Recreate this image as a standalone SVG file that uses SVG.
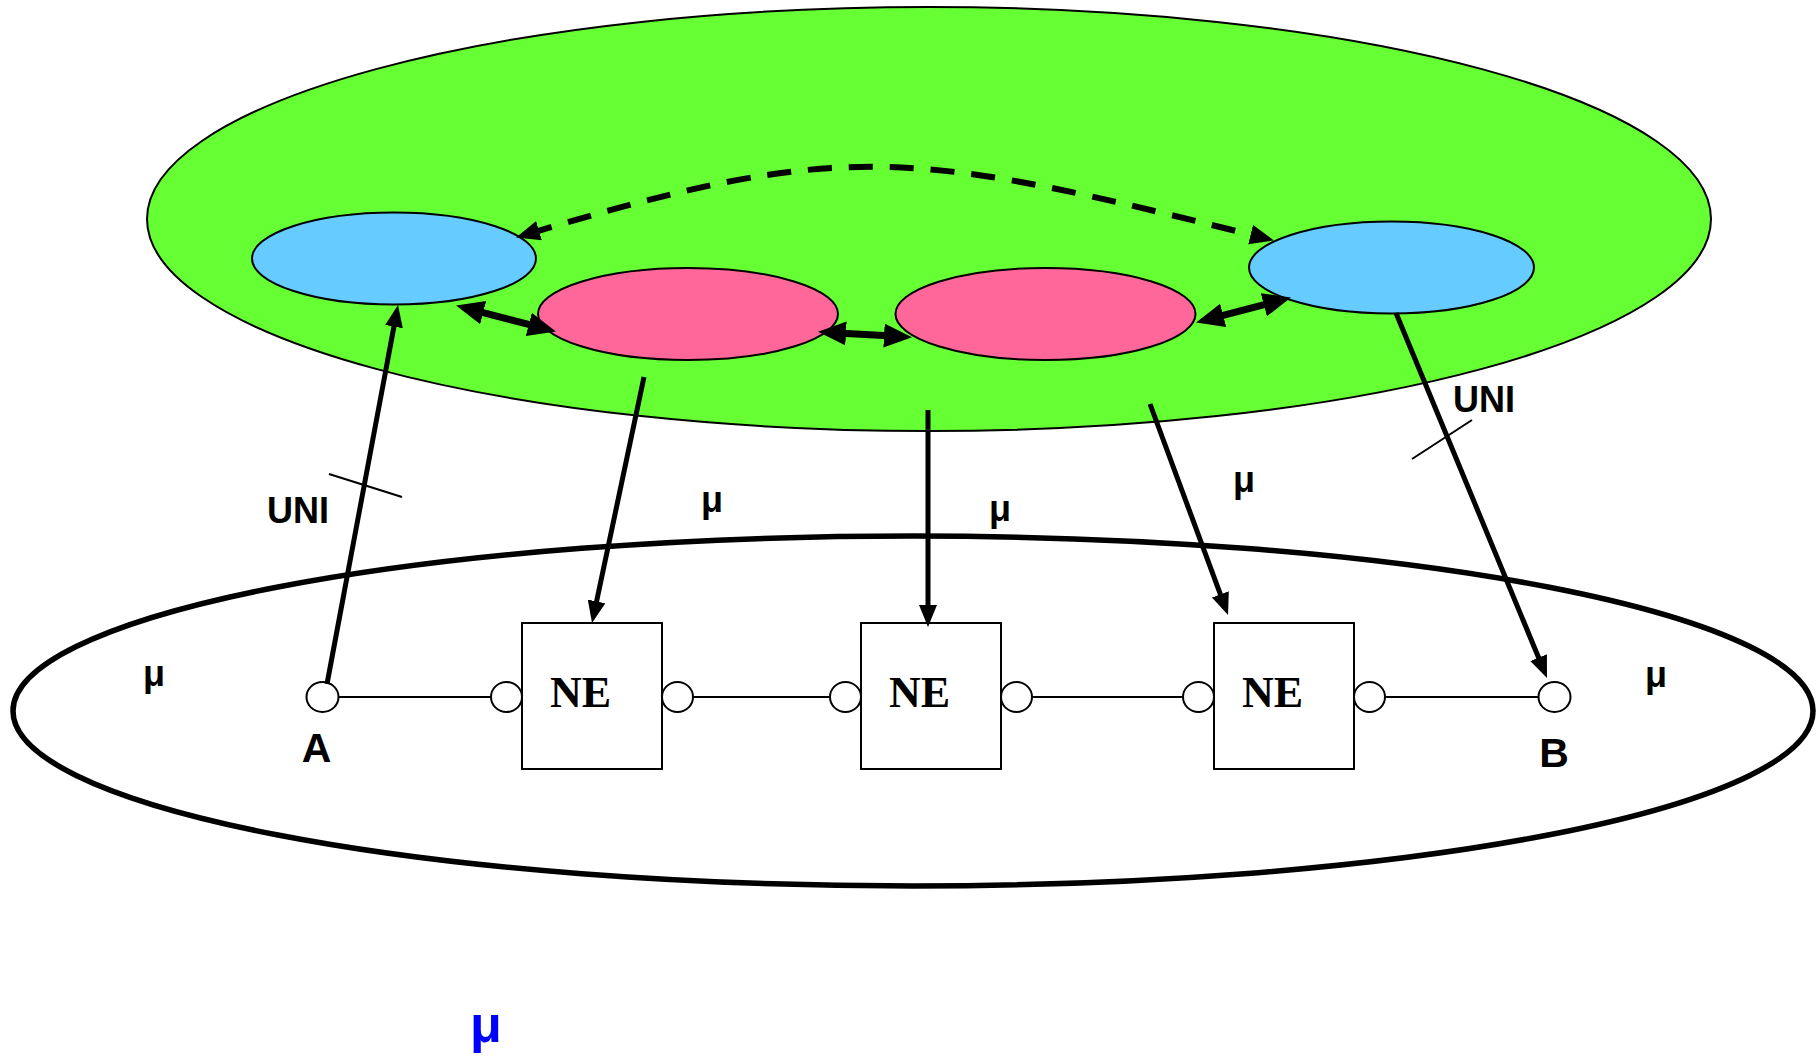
<svg xmlns="http://www.w3.org/2000/svg" width="1818" height="1058" viewBox="0 0 1818 1058">
<style>
.lbl{font-family:"Liberation Sans",Arial,sans-serif;font-weight:bold;fill:#000}
.ne{font-family:"Liberation Serif","Times New Roman",serif;font-weight:bold;font-size:44px;fill:#000}
.box{fill:#fff;stroke:#000;stroke-width:2}
.port{fill:#fff;stroke:#000;stroke-width:2}
.link{stroke:#000;stroke-width:2;fill:none}
.ctl{stroke:#000;stroke-width:5;fill:none}
.dbl{stroke:#000;stroke-width:7;fill:none}
.tick{stroke:#000;stroke-width:2;fill:none}
</style>
<defs>
<marker id="ah" markerUnits="userSpaceOnUse" markerWidth="24" markerHeight="20" refX="11" refY="9" orient="auto"><path d="M0,0 L22,9 L0,18 z" fill="#000"/></marker>
<marker id="ahb" markerUnits="userSpaceOnUse" markerWidth="30" markerHeight="26" refX="13" refY="12" orient="auto-start-reverse"><path d="M0,0 L28,12 L0,24 z" fill="#000"/></marker>
<marker id="ahd" markerUnits="userSpaceOnUse" markerWidth="26" markerHeight="22" refX="11" refY="10" orient="auto-start-reverse"><path d="M0,0 L24,10 L0,20 z" fill="#000"/></marker>
</defs>
<rect width="1818" height="1058" fill="#fff"/>
<g id="control-plane"><ellipse cx="929" cy="219" rx="782" ry="212" fill="#66FF33" stroke="#000" stroke-width="2"/></g>
<g id="transport-plane"><ellipse cx="913" cy="711" rx="900" ry="175" fill="#fff" stroke="#000" stroke-width="5.5"/></g>
<g id="cc-a"><ellipse cx="394" cy="258.5" rx="142" ry="46" fill="#66CCFF" stroke="#000" stroke-width="2"/></g>
<g id="cc-1"><ellipse cx="688" cy="314" rx="150" ry="46" fill="#FF6699" stroke="#000" stroke-width="2"/></g>
<g id="cc-2"><ellipse cx="1045.5" cy="314" rx="150" ry="46" fill="#FF6699" stroke="#000" stroke-width="2"/></g>
<g id="cc-b"><ellipse cx="1391.5" cy="267.5" rx="142.5" ry="46" fill="#66CCFF" stroke="#000" stroke-width="2"/></g>
<g id="links">
<line class="link" x1="322.5" y1="697" x2="507" y2="697"/>
<line class="link" x1="677.5" y1="697" x2="846" y2="697"/>
<line class="link" x1="1015" y1="697" x2="1199" y2="697"/>
<line class="link" x1="1370" y1="697" x2="1554.5" y2="697"/>
</g>
<g id="ne1"><rect class="box" x="522" y="623" width="140" height="146"/><text class="ne" x="550" y="707">NE</text></g>
<g id="ne2"><rect class="box" x="861" y="623" width="140" height="146"/><text class="ne" x="889" y="707">NE</text></g>
<g id="ne3"><rect class="box" x="1214" y="623" width="140" height="146"/><text class="ne" x="1242" y="707">NE</text></g>
<g id="ports">
<ellipse class="port" cx="322.5" cy="697" rx="16" ry="15"/>
<ellipse class="port" cx="506.5" cy="697" rx="15.5" ry="15"/>
<ellipse class="port" cx="677.5" cy="697" rx="15.5" ry="15"/>
<ellipse class="port" cx="845.5" cy="697" rx="15.5" ry="15"/>
<ellipse class="port" cx="1016.5" cy="697" rx="15.5" ry="15"/>
<ellipse class="port" cx="1198.5" cy="697" rx="15.5" ry="15"/>
<ellipse class="port" cx="1369.5" cy="697" rx="15.5" ry="15"/>
<ellipse class="port" cx="1554.5" cy="697" rx="16" ry="15"/>
</g>
<g id="connectors">
<line class="ctl" x1="327" y1="684" x2="396" y2="315.8" marker-end="url(#ah)"/>
<line class="ctl" x1="644" y1="377" x2="594.3" y2="612.2" marker-end="url(#ah)"/>
<line class="ctl" x1="928" y1="410" x2="928" y2="616" marker-end="url(#ah)"/>
<line class="ctl" x1="1150" y1="404" x2="1224.2" y2="604.7" marker-end="url(#ah)"/>
<line class="ctl" x1="1396" y1="313" x2="1542.8" y2="667.8" marker-end="url(#ah)"/>
<line class="dbl" x1="470.6" y1="309.3" x2="541.4" y2="327.7" marker-start="url(#ahb)" marker-end="url(#ahb)"/>
<line class="dbl" x1="833" y1="332.7" x2="897" y2="336.3" marker-start="url(#ahb)" marker-end="url(#ahb)"/>
<line class="dbl" x1="1210.6" y1="318.7" x2="1276.4" y2="301.4" marker-start="url(#ahb)" marker-end="url(#ahb)"/>
<path d="M528.5,233.8 C848,138 912,150 1261.3,237.3" stroke="#000" stroke-width="6" fill="none" stroke-dasharray="24 17" marker-start="url(#ahd)" marker-end="url(#ahd)"/>
<line class="tick" x1="329" y1="474" x2="402" y2="497"/>
<line class="tick" x1="1412" y1="459" x2="1472" y2="420"/>
</g>
<g id="labels">
<text class="lbl" x="267" y="523" font-size="36">UNI</text>
<text class="lbl" x="1453" y="412" font-size="36">UNI</text>
<text class="lbl" x="316.5" y="762" font-size="41" text-anchor="middle">A</text>
<text class="lbl" x="1554" y="767" font-size="41" text-anchor="middle">B</text>
<text class="lbl" x="143" y="686" font-size="36">μ</text>
<text class="lbl" x="1645" y="687" font-size="36">μ</text>
<text class="lbl" x="701" y="512" font-size="36">μ</text>
<text class="lbl" x="989" y="521" font-size="36">μ</text>
<text class="lbl" x="1233" y="492" font-size="36">μ</text>
<text class="lbl" x="470" y="1042" font-size="52" style="fill:#0000FF">μ</text>
</g>
</svg>
